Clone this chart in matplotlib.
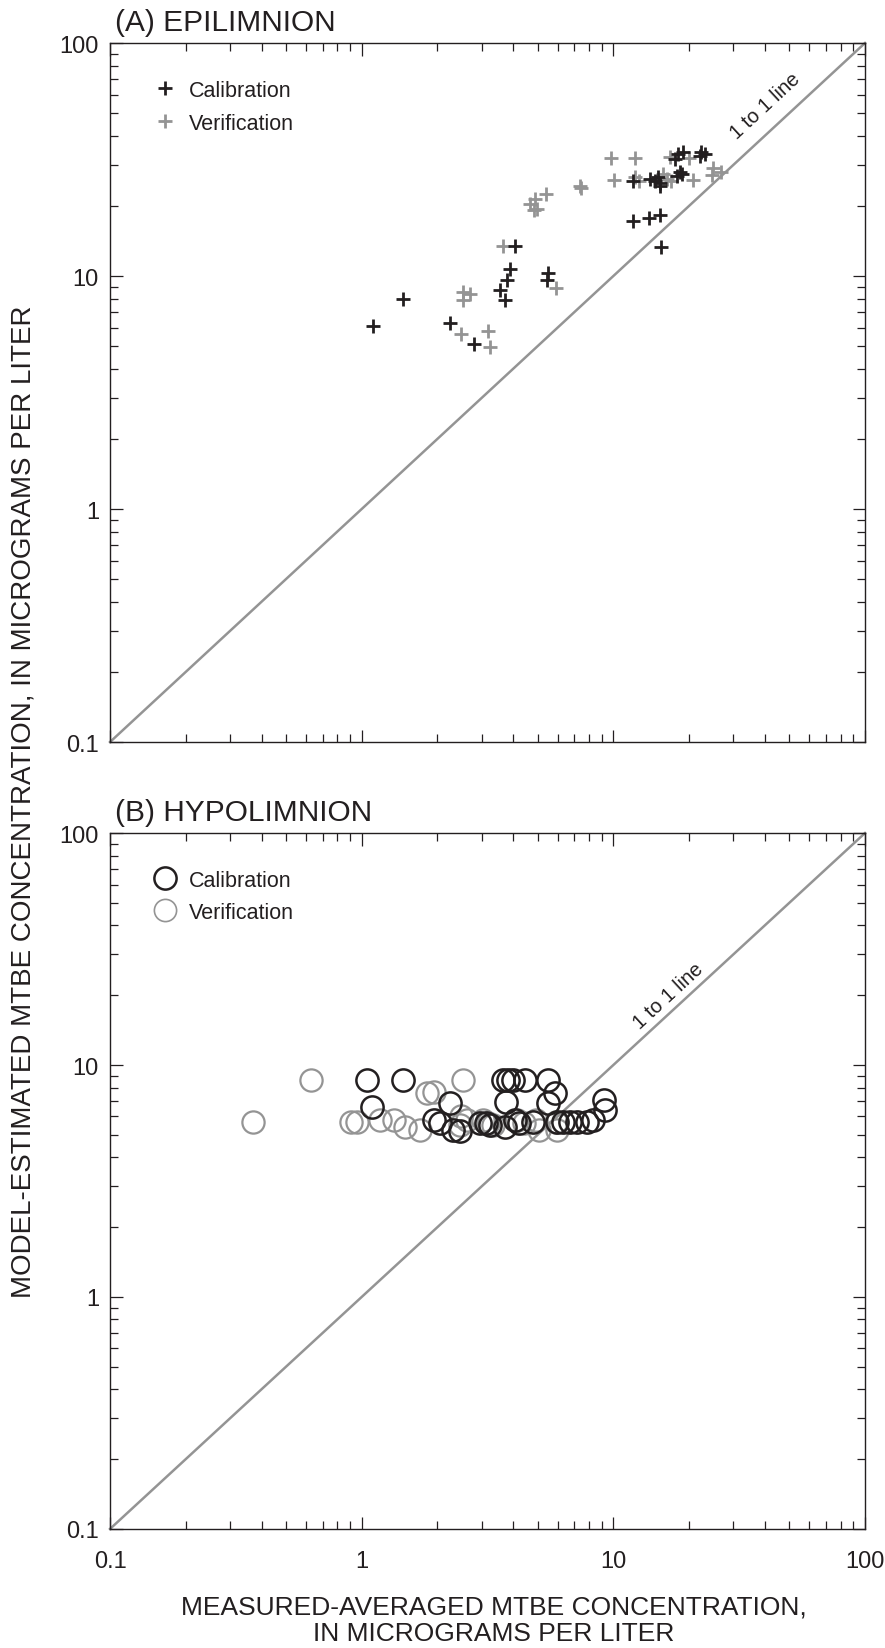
import math
import matplotlib
matplotlib.use("Agg")
import matplotlib.pyplot as plt
from matplotlib.ticker import LogLocator, NullFormatter, FixedFormatter, FixedLocator
from matplotlib.lines import Line2D

plt.rcParams['font.family'] = ['Liberation Sans', 'DejaVu Sans']

DARK = '#231f20'
GRAY = '#949494'

# Epilimnion, calibration period (measured, model)
epi_cal_meas = [1.11, 1.46, 2.24, 2.79, 4.06, 3.88, 3.77, 3.54, 3.70, 5.5, 5.46,
                18.1, 19.0, 17.6, 22.4, 23.1, 22.1, 18.4, 18.7, 17.9,
                13.96, 14.6, 15.3, 15.0, 15.3, 12.0, 12.0, 13.8, 15.3, 15.4]
epi_cal_model = [6.12, 7.96, 6.28, 5.11, 13.4, 10.7, 9.6, 8.7, 7.9, 10.3, 9.64,
                 33.4, 34.0, 31.8, 34.0, 33.4, 32.9, 27.9, 27.4, 27.0,
                 26.1, 25.6, 25.2, 26.5, 24.4, 25.6, 17.3, 17.7, 18.2, 13.3]

# Epilimnion, verification period
epi_ver_meas = [3.66, 2.52, 2.69, 2.52, 2.49, 3.18, 3.25, 5.9, 4.67, 4.88, 4.96,
                5.40, 4.85, 7.36, 7.45, 9.77, 10.1, 12.2, 12.2, 12.6, 16.3, 17.0,
                16.8, 19.9, 20.8, 24.9, 24.6, 26.9, 15.8]
epi_ver_model = [13.4, 8.5, 8.4, 7.9, 5.64, 5.82, 4.94, 8.9, 20.4, 21.4, 19.4,
                 22.5, 19.2, 24.4, 23.8, 32.0, 25.8, 32.0, 26.5, 25.6, 26.1, 25.6,
                 32.3, 32.0, 25.8, 29.0, 27.1, 27.9, 27.4]

# Hypolimnion, calibration period
hypo_cal_meas = [1.05, 1.46, 1.10, 2.24, 1.93, 2.05, 2.31, 2.47, 2.95, 3.13, 3.24,
                 3.66, 3.83, 4.0, 3.74, 4.2, 4.05, 4.46, 4.81, 5.5, 5.86, 5.5,
                 5.96, 6.33, 6.72, 7.15, 7.83, 8.33, 9.2, 9.3, 3.71]
hypo_cal_model = [8.6, 8.6, 6.6, 6.84, 5.79, 5.61, 5.25, 5.2, 5.6, 5.6, 5.5,
                  8.6, 8.6, 8.6, 6.95, 5.6, 5.79, 8.6, 5.66, 8.6, 7.55, 6.84,
                  5.7, 5.7, 5.7, 5.7, 5.7, 5.8, 7.06, 6.4, 5.4]

# Hypolimnion, verification period
hypo_ver_meas = [0.369, 0.63, 0.91, 0.955, 1.18, 1.34, 1.49, 1.71, 1.81, 1.93,
                 2.52, 2.49, 2.62, 2.47, 3.04, 3.18, 3.33, 4.14, 4.41, 4.95,
                 5.08, 5.96, 5.9]
hypo_ver_model = [5.7, 8.6, 5.7, 5.7, 5.79, 5.79, 5.4, 5.25, 7.56, 7.67,
                  8.6, 6.0, 5.8, 5.5, 5.8, 5.6, 5.5, 5.8, 5.6, 5.8,
                  5.25, 5.25, 5.7]

limits = [0.1, 100]
tick_vals = [0.1, 1, 10, 100]
tick_text = ['0.1', '1', '10', '100']

fig = plt.figure(figsize=(8.85, 16.49), dpi=100)
ax_a = fig.add_axes([0.1243, 0.5494, 0.8531, 0.4239])
ax_b = fig.add_axes([0.1243, 0.0722, 0.8531, 0.4220])


def style_axis(ax, show_xlabels):
    ax.set_xscale('log')
    ax.set_yscale('log')
    ax.set_xlim(limits)
    ax.set_ylim(limits)
    for sp in ax.spines.values():
        sp.set_linewidth(1.0)
        sp.set_color(DARK)
    for axis in (ax.xaxis, ax.yaxis):
        axis.set_major_locator(FixedLocator(tick_vals))
        axis.set_minor_locator(LogLocator(base=10, subs=range(2, 10)))
        axis.set_minor_formatter(NullFormatter())
    ax.yaxis.set_major_formatter(FixedFormatter(tick_text))
    if show_xlabels:
        ax.xaxis.set_major_formatter(FixedFormatter(tick_text))
    else:
        ax.xaxis.set_major_formatter(NullFormatter())
    ax.tick_params(which='both', direction='in', top=True, right=True,
                   color=DARK, width=0.9)
    ax.tick_params(which='major', length=9)
    ax.tick_params(which='minor', length=6)
    ax.tick_params(axis='y', which='major', labelsize=17, pad=8, labelcolor=DARK)
    ax.tick_params(axis='x', which='major', labelsize=17, pad=15, labelcolor=DARK)
    ax.plot(limits, limits, color=GRAY, lw=1.8, zorder=1, clip_on=False)


style_axis(ax_a, False)
style_axis(ax_b, True)

# angle of the 1:1 line on screen
w_px = 0.8531 * 885
h_a = 0.4239 * 1649
h_b = 0.4220 * 1649
ang_a = math.degrees(math.atan2(h_a, w_px))
ang_b = math.degrees(math.atan2(h_b, w_px))

# (A) epilimnion
ax_a.plot(epi_ver_meas, epi_ver_model, ls='none', marker='+', ms=10, mew=2.0,
          color=GRAY, zorder=2)
ax_a.plot(epi_cal_meas, epi_cal_model, ls='none', marker='+', ms=10, mew=2.0,
          color=DARK, zorder=3)
ax_a.text(40, 54, '1 to 1 line', rotation=ang_a, ha='center', va='center',
          fontsize=14.5, color=DARK, rotation_mode='anchor')
ax_a.text(0.007, 1.01, '(A) EPILIMNION', transform=ax_a.transAxes, ha='left',
          va='bottom', fontsize=21.5, color=DARK)
handles_a = [Line2D([], [], ls='none', marker='+', ms=10, mew=2.0, color=DARK),
             Line2D([], [], ls='none', marker='+', ms=10, mew=2.0, color=GRAY)]
ax_a.legend(handles_a, ['Calibration', 'Verification'], loc='upper left',
            bbox_to_anchor=(0.03, 0.975), frameon=False, fontsize=15.5,
            handletextpad=0.5, labelspacing=0.55, handlelength=1.2,
            labelcolor=DARK)

# (B) hypolimnion
ax_b.plot(hypo_ver_meas, hypo_ver_model, ls='none', marker='o', ms=16,
          mfc='none', mec=GRAY, mew=1.6, zorder=2)
ax_b.plot(hypo_cal_meas, hypo_cal_model, ls='none', marker='o', ms=16,
          mfc='none', mec=DARK, mew=1.8, zorder=3)
ax_b.text(16.5, 20, '1 to 1 line', rotation=ang_b, ha='center', va='center',
          fontsize=14.5, color=DARK, rotation_mode='anchor')
ax_b.text(0.007, 1.01, '(B) HYPOLIMNION', transform=ax_b.transAxes, ha='left',
          va='bottom', fontsize=21.5, color=DARK)
handles_b = [Line2D([], [], ls='none', marker='o', ms=16, mfc='none', mec=DARK, mew=1.8),
             Line2D([], [], ls='none', marker='o', ms=16, mfc='none', mec=GRAY, mew=1.2)]
ax_b.legend(handles_b, ['Calibration', 'Verification'], loc='upper left',
            bbox_to_anchor=(0.03, 0.975), frameon=False, fontsize=15.5,
            handletextpad=0.5, labelspacing=0.5, handlelength=1.2,
            labelcolor=DARK)

ax_b.set_xlabel('MEASURED-AVERAGED MTBE CONCENTRATION,\nIN MICROGRAMS PER LITER',
                fontsize=19, color=DARK, linespacing=1.15)
ax_b.xaxis.set_label_coords(0.508, -0.094)
ax_b.xaxis.label.set_va('top')
fig.text(0.027, 0.514, 'MODEL-ESTIMATED MTBE CONCENTRATION, IN MICROGRAMS PER LITER',
         rotation=90, ha='center', va='center', fontsize=20, color=DARK)

fig.savefig('out.png', dpi=100)
